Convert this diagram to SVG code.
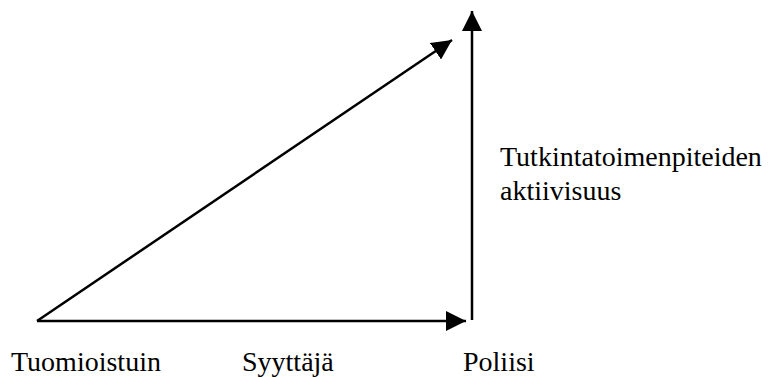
<svg xmlns="http://www.w3.org/2000/svg" width="771" height="377" viewBox="0 0 771 377">
  <style>
    .ln { stroke: #000; stroke-width: 2.5; fill: none; }
    .lbl { font-family: 'Liberation Serif', 'Times New Roman', 'DejaVu Serif', serif; font-size: 28px; fill: #000; }
  </style>
  <defs>
    <marker id="ah" markerUnits="userSpaceOnUse" markerWidth="20" markerHeight="20" viewBox="0 0 18 18" refX="18" refY="9" orient="auto">
      <path d="M0,0 L18,9 L0,18 Z" fill="#000"/>
    </marker>
  </defs>
  <rect width="771" height="377" fill="#fff"/>
  <g id="connectors">
    <line class="ln" x1="37" y1="321" x2="466" y2="321" marker-end="url(#ah)"/>
    <line class="ln" x1="37" y1="321" x2="452" y2="40" marker-end="url(#ah)"/>
    <line class="ln" x1="472" y1="320" x2="472" y2="11" marker-end="url(#ah)"/>
  </g>
  <g id="node-tuomioistuin">
    <text class="lbl" x="11" y="371">Tuomioistuin</text>
  </g>
  <g id="node-syyttaja">
    <text class="lbl" x="242" y="371">Syyttäjä</text>
  </g>
  <g id="node-poliisi">
    <text class="lbl" x="463" y="371">Poliisi</text>
  </g>
  <g id="label-aktiivisuus">
    <text class="lbl" x="500" y="166">Tutkintatoimenpiteiden</text>
    <text class="lbl" x="500" y="200">aktiivisuus</text>
  </g>
</svg>
